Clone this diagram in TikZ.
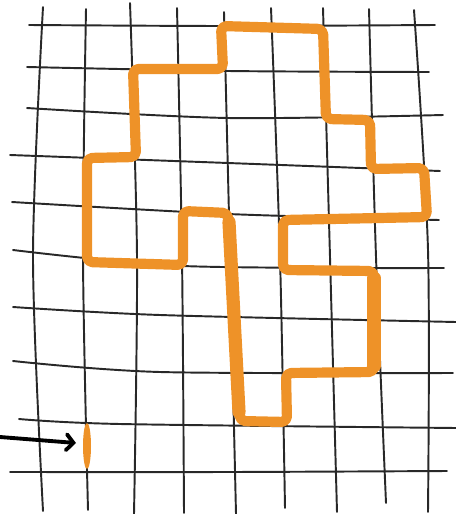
\documentclass[tikz,border=0pt]{standalone}
\usepackage{tikz}
\usetikzlibrary{arrows.meta}

\definecolor{penorange}{RGB}{238,146,40}
\definecolor{penblack}{RGB}{40,40,40}

\tikzset{
	gridline/.style={penblack,line width=1.1pt,line cap=round},
	loopline/.style={penorange,line width=5.8pt,line join=round,line cap=round,rounded corners=3pt},
	pointer/.style={-{Straight Barb[length=4pt,width=9pt,line cap=round]},black,line width=2.2pt,line cap=round}
}

\begin{document}
\begin{tikzpicture}[x=0.02cm,y=-0.02cm]
		
		\useasboundingbox (0,0) rectangle (456,514);
		
		% --- hand drawn grid: vertical lines (top / middle / bottom) ---
		\foreach \xa/\ya/\xb/\yb/\xc/\yc in {
			43/7/33/257/43/511,
			86/9/83/257/88/510,
			130/3/137/257/134/514,
			177/8/182/257/184/513,
			224/12/230/257/236/514,
			271/8/280/257/285/508,
			323/8/330/257/337/512,
			369/9/376/257/386/503,
			414/10/428/250/428/512}{
			\draw[gridline] plot[smooth] coordinates {(\xa,\ya) (\xb,\yb) (\xc,\yc)};
		}
		
		% horizontal lines (left / middle / right)
		\foreach \xa/\ya/\xb/\yb/\xc/\yc in {
			29/25/228/26/435/25,
			27/67/228/71/429/72,
			27/108/228/118/443/115,
			10/155/228/163/440/171,
			12/202/228/214/439/220,
			13/250/183/266/444/268,
			13/307/160/315/456/322,
			13/361/160/372/453/373,
			19/419/120/424/456/428,
			10/472/228/472/447/471}{
			\draw[gridline] plot[smooth] coordinates {(\xa,\ya) (\xb,\yb) (\xc,\yc)};
		}
		
		% --- orange closed loop along the grid ---
		\draw[loopline]
		(240,421) -- (228,213) -- (183,211) -- (183,265) -- (87,262)
		-- (87,158) -- (136,157) -- (133,69) -- (223,69) -- (221,26)
		-- (323,29) -- (326,119) -- (370,120) -- (371,169) -- (424,168)
		-- (427,217) -- (283,220) -- (283,270) -- (374,271) -- (374,372)
		-- (286,373) -- (287,422) -- cycle;
		% heavier strokes
		\draw[loopline,line width=7.5pt] (229,222) -- (239,412);
		\draw[loopline,line width=7.5pt] (374,278) -- (374,366);
		
		% --- single short piece + arrow pointing at it ---
		\fill[penorange] (87,446) ellipse (4 and 23);
		\coordinate (mark) at (76,443);
		\coordinate (start) at (0,437);
		\draw[pointer] (start) -- (mark);
		
	\end{tikzpicture}
\end{document}
